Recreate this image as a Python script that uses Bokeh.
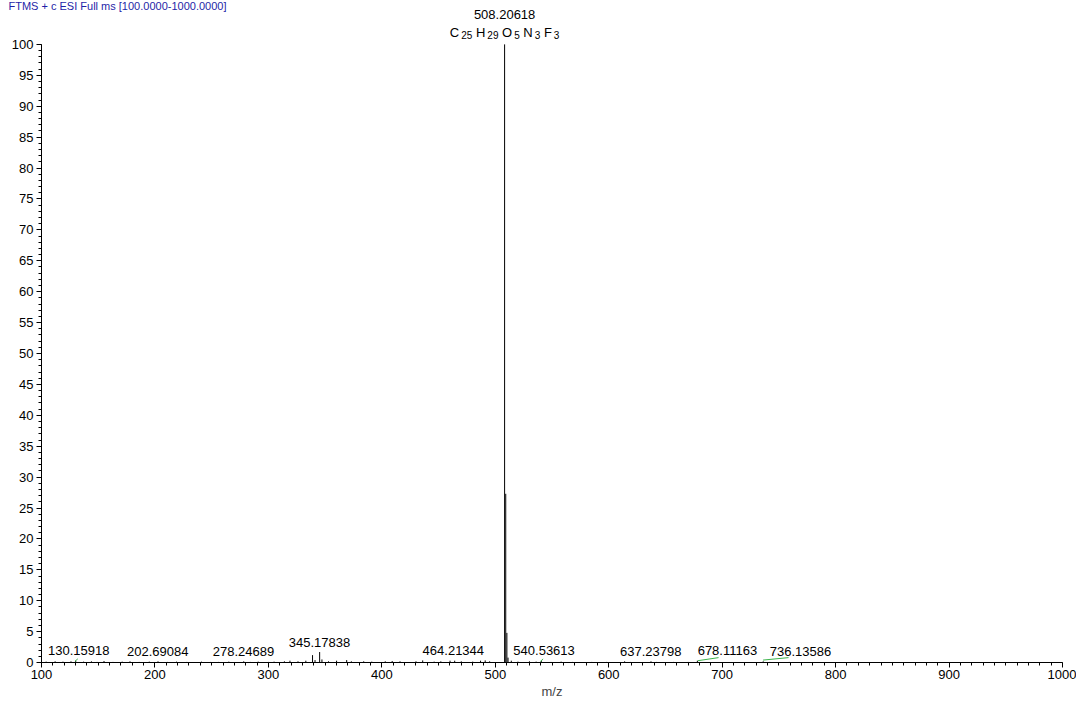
from bokeh.plotting import figure
from bokeh.models import ColumnDataSource, FixedTicker, Range1d
from bokeh.core.properties import value
from bokeh.embed import file_html
from bokeh.resources import INLINE

# ---------------- data ----------------
title_text = "FTMS + c ESI Full ms [100.0000-1000.0000]"
x_label = "m/z"

# centroid peaks (m/z, relative abundance %)
peak_mz = [104.1, 112.0, 118.9, 126.0, 130.15918, 137.1, 144.0, 149.0, 155.1, 163.0,
           171.1, 178.0, 186.1, 195.0, 202.69084, 211.1, 219.0, 228.1, 241.0, 249.1,
           256.0, 265.1, 278.24689, 284.1, 291.0, 300.1, 305.0, 314.1, 319.0, 326.1,
           333.0, 338.9, 341.1, 345.17838, 347.2, 353.0, 360.1, 369.0, 373.1, 384.0,
           391.1, 403.0, 409.1, 416.0, 430.1, 436.0, 446.1, 452.0, 460.1, 464.21344,
           470.0, 480.1, 487.0, 491.1, 495.0, 508.20618, 509.2095, 510.2110, 511.21,
           514.1, 520.0, 530.1, 536.0, 540.53613, 549.1, 558.0, 568.1, 585.0, 598.1,
           614.0, 619.1, 637.23798, 642.0, 657.1, 670.0, 678.11163, 736.13586, 742.0, 759.1]
peak_int = [0.15, 0.2, 0.15, 0.2, 0.3, 0.15, 0.2, 0.1, 0.25, 0.1,
            0.15, 0.2, 0.1, 0.15, 0.2, 0.1, 0.15, 0.1, 0.15, 0.1,
            0.1, 0.15, 0.2, 0.1, 0.15, 0.1, 0.15, 0.2, 0.3, 0.2,
            0.3, 1.2, 0.4, 1.7, 0.5, 0.2, 0.3, 0.4, 0.2, 0.2,
            0.15, 0.2, 0.25, 0.2, 0.2, 0.35, 0.15, 0.2, 0.3, 0.3,
            0.2, 0.15, 0.3, 0.35, 0.2, 100.0, 27.3, 4.8, 0.8,
            0.3, 0.15, 0.2, 0.15, 0.3, 0.1, 0.15, 0.1, 0.1, 0.1,
            0.2, 0.1, 0.2, 0.1, 0.1, 0.1, 0.3, 0.2, 0.1, 0.1]

# annotated peaks: label text, label anchor (m/z) and abundance
label_text = ["130.15918", "202.69084", "278.24689", "345.17838", "464.21344",
              "540.53613", "637.23798", "678.11163", "736.13586"]
label_x = [132.8, 202.5, 278.0, 345.0, 463.0, 543.0, 637.0, 704.6, 769.0]
label_int = [0.3, 0.2, 0.2, 1.7, 0.3, 0.3, 0.2, 0.3, 0.2]

# base peak and its formula
base_mz = 508.20618
base_int = 100.0
base_text = "508.20618"
formula_elements = ["C", "H", "O", "N", "F"]
formula_counts = ["25", "29", "5", "3", "3"]

# green leader lines from peaks to shifted labels
green_x0 = [129.5, 540.0, 678.6, 736.0]
green_x1 = [132.0, 542.0, 696.8, 758.5]
green_y0 = [0.2, 0.15, 0.3, 0.4]
green_y1 = [0.6, 0.6, 0.8, 0.8]

y_ticks = list(range(0, 101, 5))
y_minor = list(range(0, 101, 1))
x_ticks = list(range(100, 1001, 100))
x_minor = list(range(100, 1001, 10))

# ---------------- figure ----------------
FONT = "Liberation Sans"
X_MIN, X_MAX = 100, 1000
Y_MIN, Y_MAX = 0, 100
X_START, X_END = 63.86, 1012.3     # room for axes and labels inside the frame
Y_START, Y_TOP = -6.3, 107.1

p = figure(width=1076, height=701, output_backend="svg", toolbar_location=None,
           x_range=Range1d(X_START, X_END), y_range=Range1d(Y_START, Y_TOP),
           min_border=0)
p.outline_line_color = None
p.grid.visible = False
p.background_fill_color = "white"

for ax in (p.xaxis[0], p.yaxis[0]):
    ax.major_tick_in = 0
    ax.minor_tick_in = 0
    ax.major_tick_out = 5
    ax.minor_tick_out = 3
    ax.axis_line_color = "black"
    ax.major_tick_line_color = "black"
    ax.minor_tick_line_color = "black"
    ax.major_label_text_font = FONT
    ax.major_label_text_font_size = "13px"
    ax.major_label_text_color = "black"
    ax.axis_label_text_font = FONT
    ax.axis_label_text_font_size = "13px"
    ax.axis_label_text_font_style = "normal"

p.yaxis.ticker = FixedTicker(ticks=y_ticks, minor_ticks=y_minor)
p.yaxis.bounds = (Y_MIN, Y_MAX)
p.yaxis.fixed_location = X_MIN
p.yaxis.major_label_standoff = 3
p.xaxis.ticker = FixedTicker(ticks=x_ticks, minor_ticks=x_minor)
p.xaxis.bounds = (X_MIN, X_MAX)
p.xaxis.fixed_location = Y_MIN
p.xaxis.major_label_standoff = 2
p.xaxis.axis_label = x_label
p.xaxis.axis_label_standoff = 2

# scan header
p.text(x=[X_START], y=[Y_TOP], text=[title_text], x_offset=8, y_offset=-1,
       text_align="left", text_baseline="top", text_font=value(FONT),
       text_font_size="11px", text_color="#1f1fa8")

# peaks
src = ColumnDataSource(dict(x=peak_mz, top=peak_int, y0=[0.0] * len(peak_mz)))
p.segment(x0="x", y0="y0", x1="x", y1="top", source=src, line_color="black", line_width=1)

# green leader lines
p.segment(x0=green_x0, y0=green_y0, x1=green_x1, y1=green_y1, line_color="#3cb44b", line_width=1)

# peak labels
p.text(x=label_x, y=label_int, text=label_text, text_align="center",
       text_baseline="alphabetic", y_offset=-10, text_font=value(FONT),
       text_font_size="13px", text_color="black")

# base peak label
p.text(x=[base_mz], y=[base_int], text=[base_text], text_align="center",
       text_baseline="alphabetic", y_offset=-30, text_font=value(FONT),
       text_font_size="13px", text_color="black")

# formula with subscripts
em = {"C": 0.722, "H": 0.722, "O": 0.778, "N": 0.722, "F": 0.611, " ": 0.278}
MAIN, SUB, GAP = 13.0, 10.0, 2.0
pieces, offs, sizes, yoffs = [], [], [], []
cx = 0.0
for i, (el, n) in enumerate(zip(formula_elements, formula_counts)):
    if i > 0:
        cx += em[" "] * MAIN
    pieces.append(el); offs.append(cx); sizes.append("13px"); yoffs.append(-12)
    cx += em[el] * MAIN + GAP
    pieces.append(n); offs.append(cx); sizes.append("10px"); yoffs.append(-9)
    cx += 0.556 * SUB * len(n)
total = cx
offs = [o - total / 2 for o in offs]
fsrc = ColumnDataSource(dict(x=[base_mz] * len(pieces), y=[base_int] * len(pieces),
                             text=pieces, xo=offs, yo=yoffs, fs=sizes))
p.text(x="x", y="y", text="text", x_offset="xo", y_offset="yo", text_font_size="fs",
       source=fsrc, text_align="left", text_baseline="alphabetic",
       text_font=value(FONT), text_color="black")

open("out.html", "w").write(file_html(p, INLINE))
